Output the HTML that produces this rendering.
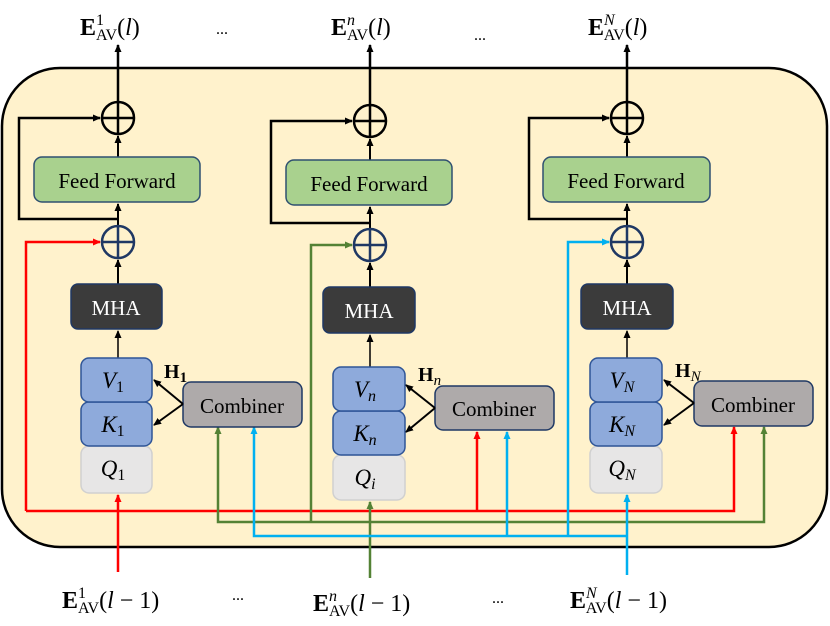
<!DOCTYPE html>
<html><head><meta charset="utf-8"><style>
html,body{margin:0;padding:0;background:#fff;}
svg{display:block;}
text{font-family:"Liberation Serif",serif;}
</style></head><body>
<svg width="830" height="626" viewBox="0 0 830 626" xmlns="http://www.w3.org/2000/svg">
<defs>
<marker id="ak" markerWidth="8" markerHeight="8" refX="7" refY="4" orient="auto-start-reverse" markerUnits="userSpaceOnUse"><path d="M0,0.5 L8,4 L0,7.5 Z" fill="#000"/></marker>
<marker id="ar" markerWidth="8" markerHeight="8" refX="7" refY="4" orient="auto-start-reverse" markerUnits="userSpaceOnUse"><path d="M0,0.5 L8,4 L0,7.5 Z" fill="#f00"/></marker>
<marker id="ag" markerWidth="8" markerHeight="8" refX="7" refY="4" orient="auto-start-reverse" markerUnits="userSpaceOnUse"><path d="M0,0.5 L8,4 L0,7.5 Z" fill="#548235"/></marker>
<marker id="ab" markerWidth="8" markerHeight="8" refX="7" refY="4" orient="auto-start-reverse" markerUnits="userSpaceOnUse"><path d="M0,0.5 L8,4 L0,7.5 Z" fill="#00b0f0"/></marker>
</defs>
<rect x="2" y="68" width="825" height="479" rx="58" fill="#fff2cc" stroke="#000" stroke-width="2.5"/>

<g fill="none" stroke-width="2.5">
<polyline points="26,511 26,242 100,242" stroke="#f00" marker-end="url(#ar)"/>
<polyline points="26,511 734,511 734,427" stroke="#f00" marker-end="url(#ar)"/>
<polyline points="477,511 477,432" stroke="#f00" marker-end="url(#ar)"/>
<polyline points="118,572 118,495" stroke="#f00" marker-end="url(#ar)"/>

<polyline points="218,427 218,522 764,522 764,427" stroke="#548235" marker-start="url(#ag)" marker-end="url(#ag)"/>
<polyline points="311,522 311,245 352,245" stroke="#548235" marker-end="url(#ag)"/>
<polyline points="370,578 370,502" stroke="#548235" marker-end="url(#ag)"/>

<polyline points="254,427 254,536 627,536" stroke="#00b0f0" marker-start="url(#ab)"/>
<polyline points="507,536 507,432" stroke="#00b0f0" marker-end="url(#ab)"/>
<polyline points="568,536 568,242 609,242" stroke="#00b0f0" marker-end="url(#ab)"/>
<polyline points="627,575 627,495" stroke="#00b0f0" marker-end="url(#ab)"/>
</g>

<!-- Column 1 -->
<g>
<line x1="118" y1="102" x2="118" y2="45" stroke="#000" stroke-width="2.5" marker-end="url(#ak)"/>
<polyline points="118,219 19,219 19,118 100,118" fill="none" stroke="#000" stroke-width="2.5" marker-end="url(#ak)"/>
<line x1="118" y1="157" x2="118" y2="136" stroke="#000" stroke-width="2" marker-end="url(#ak)"/>
<line x1="118" y1="226" x2="118" y2="204" stroke="#000" stroke-width="2" marker-end="url(#ak)"/>
<line x1="118" y1="284" x2="118" y2="260" stroke="#000" stroke-width="2" marker-end="url(#ak)"/>
<line x1="118" y1="358" x2="118" y2="331" stroke="#000" stroke-width="1.5" marker-end="url(#ak)"/>
<circle cx="118" cy="118" r="16" fill="none" stroke="#000" stroke-width="2.5"/>
<line x1="102" y1="118" x2="134" y2="118" stroke="#000" stroke-width="2.5"/><line x1="118" y1="102" x2="118" y2="134" stroke="#000" stroke-width="2.5"/>
<rect x="34" y="157" width="166" height="45" rx="8" fill="#a9d18e" stroke="#2f5070" stroke-width="1.5"/>
<text x="117" y="188" font-size="21" text-anchor="middle">Feed Forward</text>
<circle cx="118" cy="242" r="16" fill="none" stroke="#1f3864" stroke-width="2.5"/>
<line x1="102" y1="242" x2="134" y2="242" stroke="#1f3864" stroke-width="2.5"/><line x1="118" y1="226" x2="118" y2="258" stroke="#1f3864" stroke-width="2.5"/>
<rect x="71" y="284" width="91" height="45" rx="7" fill="#3b3b3b" stroke="#1f3864" stroke-width="1.5"/>
<text x="116" y="315" font-size="21" text-anchor="middle" fill="#fff">MHA</text>
<rect x="81" y="446" width="71" height="47" rx="8" fill="#e7e6e6" stroke="#d0d0d0" stroke-width="1.5"/>
<rect x="81" y="402" width="71" height="44" rx="8" fill="#8eaadb" stroke="#2f5597" stroke-width="1.5"/>
<rect x="81" y="358" width="71" height="44" rx="8" fill="#8eaadb" stroke="#2f5597" stroke-width="1.5"/>
<text x="113" y="388" font-size="23" font-style="italic" text-anchor="middle">V<tspan font-size="16" font-style="normal" dy="4">1</tspan></text>
<text x="113" y="432" font-size="23" font-style="italic" text-anchor="middle">K<tspan font-size="16" font-style="normal" dy="4">1</tspan></text>
<text x="113" y="476" font-size="23" font-style="italic" text-anchor="middle">Q<tspan font-size="16" font-style="normal" dy="4">1</tspan></text>
<rect x="183" y="382" width="119" height="45" rx="8" fill="#aeaaaa" stroke="#1f3864" stroke-width="1.5"/>
<text x="242" y="413" font-size="21" text-anchor="middle">Combiner</text>
<line x1="183" y1="404" x2="154" y2="380" stroke="#000" stroke-width="2" marker-end="url(#ak)"/>
<line x1="183" y1="404" x2="154" y2="425" stroke="#000" stroke-width="2" marker-end="url(#ak)"/>
<text x="164" y="378" font-size="20" font-weight="bold">H<tspan font-size="15" dy="4">1</tspan></text>
</g>

<!-- Column 2 -->
<g>
<line x1="370" y1="105" x2="370" y2="45" stroke="#000" stroke-width="2.5" marker-end="url(#ak)"/>
<polyline points="370,223 271,223 271,121 352,121" fill="none" stroke="#000" stroke-width="2.5" marker-end="url(#ak)"/>
<line x1="370" y1="160" x2="370" y2="139" stroke="#000" stroke-width="2" marker-end="url(#ak)"/>
<line x1="370" y1="229" x2="370" y2="207" stroke="#000" stroke-width="2" marker-end="url(#ak)"/>
<line x1="370" y1="287" x2="370" y2="263" stroke="#000" stroke-width="2" marker-end="url(#ak)"/>
<line x1="370" y1="367" x2="370" y2="335" stroke="#000" stroke-width="1.5" marker-end="url(#ak)"/>
<circle cx="370" cy="121" r="16" fill="none" stroke="#000" stroke-width="2.5"/>
<line x1="354" y1="121" x2="386" y2="121" stroke="#000" stroke-width="2.5"/><line x1="370" y1="105" x2="370" y2="137" stroke="#000" stroke-width="2.5"/>
<rect x="286" y="160" width="166" height="45" rx="8" fill="#a9d18e" stroke="#2f5070" stroke-width="1.5"/>
<text x="369" y="191" font-size="21" text-anchor="middle">Feed Forward</text>
<circle cx="370" cy="245" r="16" fill="none" stroke="#1f3864" stroke-width="2.5"/>
<line x1="354" y1="245" x2="386" y2="245" stroke="#1f3864" stroke-width="2.5"/><line x1="370" y1="229" x2="370" y2="261" stroke="#1f3864" stroke-width="2.5"/>
<rect x="323" y="287" width="92" height="46" rx="7" fill="#3b3b3b" stroke="#1f3864" stroke-width="1.5"/>
<text x="369" y="318" font-size="21" text-anchor="middle" fill="#fff">MHA</text>
<rect x="333" y="455" width="72" height="45" rx="8" fill="#e7e6e6" stroke="#d0d0d0" stroke-width="1.5"/>
<rect x="333" y="411" width="72" height="44" rx="8" fill="#8eaadb" stroke="#2f5597" stroke-width="1.5"/>
<rect x="333" y="367" width="72" height="44" rx="8" fill="#8eaadb" stroke="#2f5597" stroke-width="1.5"/>
<text x="365" y="397" font-size="23" font-style="italic" text-anchor="middle">V<tspan font-size="16" dy="4">n</tspan></text>
<text x="365" y="441" font-size="23" font-style="italic" text-anchor="middle">K<tspan font-size="16" dy="4">n</tspan></text>
<text x="365" y="485" font-size="23" font-style="italic" text-anchor="middle">Q<tspan font-size="16" dy="4">i</tspan></text>
<rect x="435" y="386" width="119" height="44" rx="8" fill="#aeaaaa" stroke="#1f3864" stroke-width="1.5"/>
<text x="494" y="416" font-size="21" text-anchor="middle">Combiner</text>
<line x1="435" y1="408" x2="406" y2="385" stroke="#000" stroke-width="2" marker-end="url(#ak)"/>
<line x1="435" y1="408" x2="406" y2="432" stroke="#000" stroke-width="2" marker-end="url(#ak)"/>
<text x="418" y="381" font-size="20" font-weight="bold">H<tspan font-size="15" font-style="italic" font-weight="normal" dy="4">n</tspan></text>
</g>

<!-- Column 3 -->
<g>
<line x1="627" y1="102" x2="627" y2="45" stroke="#000" stroke-width="2.5" marker-end="url(#ak)"/>
<polyline points="627,219 529,219 529,118 609,118" fill="none" stroke="#000" stroke-width="2.5" marker-end="url(#ak)"/>
<line x1="627" y1="157" x2="627" y2="136" stroke="#000" stroke-width="2" marker-end="url(#ak)"/>
<line x1="627" y1="226" x2="627" y2="204" stroke="#000" stroke-width="2" marker-end="url(#ak)"/>
<line x1="627" y1="284" x2="627" y2="260" stroke="#000" stroke-width="2" marker-end="url(#ak)"/>
<line x1="627" y1="358" x2="627" y2="331" stroke="#000" stroke-width="1.5" marker-end="url(#ak)"/>
<circle cx="627" cy="118" r="16" fill="none" stroke="#000" stroke-width="2.5"/>
<line x1="611" y1="118" x2="643" y2="118" stroke="#000" stroke-width="2.5"/><line x1="627" y1="102" x2="627" y2="134" stroke="#000" stroke-width="2.5"/>
<rect x="543" y="157" width="167" height="45" rx="8" fill="#a9d18e" stroke="#2f5070" stroke-width="1.5"/>
<text x="626" y="188" font-size="21" text-anchor="middle">Feed Forward</text>
<circle cx="627" cy="242" r="16" fill="none" stroke="#1f3864" stroke-width="2.5"/>
<line x1="611" y1="242" x2="643" y2="242" stroke="#1f3864" stroke-width="2.5"/><line x1="627" y1="226" x2="627" y2="258" stroke="#1f3864" stroke-width="2.5"/>
<rect x="581" y="284" width="92" height="45" rx="7" fill="#3b3b3b" stroke="#1f3864" stroke-width="1.5"/>
<text x="627" y="315" font-size="21" text-anchor="middle" fill="#fff">MHA</text>
<rect x="590" y="446" width="72" height="47" rx="8" fill="#e7e6e6" stroke="#d0d0d0" stroke-width="1.5"/>
<rect x="590" y="402" width="72" height="44" rx="8" fill="#8eaadb" stroke="#2f5597" stroke-width="1.5"/>
<rect x="590" y="358" width="72" height="44" rx="8" fill="#8eaadb" stroke="#2f5597" stroke-width="1.5"/>
<text x="622" y="388" font-size="23" font-style="italic" text-anchor="middle">V<tspan font-size="16" dy="4">N</tspan></text>
<text x="622" y="432" font-size="23" font-style="italic" text-anchor="middle">K<tspan font-size="16" dy="4">N</tspan></text>
<text x="622" y="476" font-size="23" font-style="italic" text-anchor="middle">Q<tspan font-size="16" dy="4">N</tspan></text>
<rect x="694" y="381" width="119" height="45" rx="8" fill="#aeaaaa" stroke="#1f3864" stroke-width="1.5"/>
<text x="753" y="412" font-size="21" text-anchor="middle">Combiner</text>
<line x1="694" y1="403" x2="664" y2="380" stroke="#000" stroke-width="2" marker-end="url(#ak)"/>
<line x1="694" y1="403" x2="664" y2="425" stroke="#000" stroke-width="2" marker-end="url(#ak)"/>
<text x="675" y="377" font-size="20" font-weight="bold">H<tspan font-size="15" font-style="italic" font-weight="normal" dy="4">N</tspan></text>
</g>

<!-- Top labels -->
<g font-size="24">
<text x="80" y="35"><tspan font-weight="bold">E</tspan><tspan font-size="16" dy="-10">1</tspan><tspan font-size="16" dx="-8" dy="15">AV</tspan><tspan dy="-5">(</tspan><tspan font-style="italic">l</tspan>)</text>
<text x="331" y="35"><tspan font-weight="bold">E</tspan><tspan font-size="16" font-style="italic" dy="-10">n</tspan><tspan font-size="16" dx="-8" dy="15">AV</tspan><tspan dy="-5">(</tspan><tspan font-style="italic">l</tspan>)</text>
<text x="588" y="35"><tspan font-weight="bold">E</tspan><tspan font-size="16" font-style="italic" dy="-10">N</tspan><tspan font-size="16" dx="-11" dy="15">AV</tspan><tspan dy="-5">(</tspan><tspan font-style="italic">l</tspan>)</text>
<text x="222" y="34" font-size="16" text-anchor="middle">...</text>
<text x="480" y="40" font-size="16" text-anchor="middle">...</text>
</g>

<!-- Bottom labels -->
<g font-size="24">
<text x="62" y="608"><tspan font-weight="bold">E</tspan><tspan font-size="16" dy="-10">1</tspan><tspan font-size="16" dx="-8" dy="15">AV</tspan><tspan dy="-5">(</tspan><tspan font-style="italic">l</tspan> − 1)</text>
<text x="313" y="611"><tspan font-weight="bold">E</tspan><tspan font-size="16" font-style="italic" dy="-10">n</tspan><tspan font-size="16" dx="-8" dy="15">AV</tspan><tspan dy="-5">(</tspan><tspan font-style="italic">l</tspan> − 1)</text>
<text x="570" y="608"><tspan font-weight="bold">E</tspan><tspan font-size="16" font-style="italic" dy="-10">N</tspan><tspan font-size="16" dx="-11" dy="15">AV</tspan><tspan dy="-5">(</tspan><tspan font-style="italic">l</tspan> − 1)</text>
<text x="238" y="600" font-size="16" text-anchor="middle">...</text>
<text x="498" y="603" font-size="16" text-anchor="middle">...</text>
</g>
</svg>
</body></html>
